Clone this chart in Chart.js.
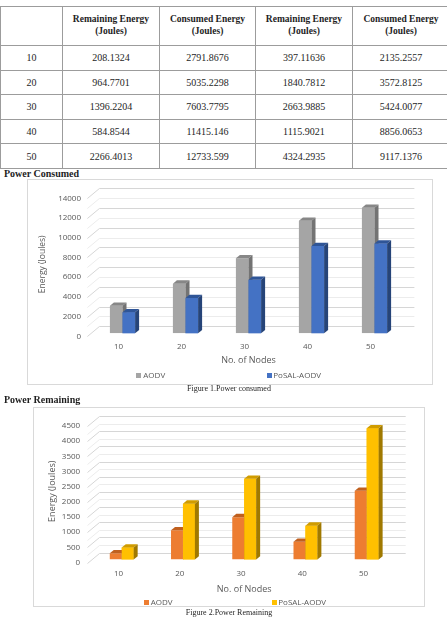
<!DOCTYPE html>
<html><head><meta charset="utf-8">
<script src="https://cdn.jsdelivr.net/npm/chart.js@4.4.0/dist/chart.umd.min.js"></script>
<style>
html,body{margin:0;padding:0;background:#fff;}
body{position:relative;width:447px;height:626px;overflow:hidden;font-family:"Liberation Serif","Times New Roman",serif;color:#1e1e1e;}
#tbl{position:absolute;left:0;top:6px;width:449px;border-collapse:collapse;table-layout:fixed;}
#tbl td,#tbl th{border:1px solid #9c9c9c;text-align:center;padding:0;}
#tbl th{font-weight:bold;font-size:9.5px;line-height:11.6px;}
#tbl td{font-size:10px;}
#tbl tr.h{height:39px;}
#tbl tr.r{height:24.6px;}
.sec{position:absolute;left:4px;font-weight:bold;font-size:10px;line-height:12px;white-space:nowrap;}
.cap{position:absolute;left:0;width:458px;text-align:center;font-size:8px;line-height:10px;white-space:nowrap;}
.box{position:absolute;border:1px solid #d9d9d9;box-sizing:border-box;}
canvas{position:absolute;}
.lg{position:absolute;font-family:"Open Sans",sans-serif;font-size:8px;line-height:10px;color:#595959;white-space:nowrap;}
.sq{position:absolute;width:5px;height:5px;}
</style>
</head>
<body>
<table id="tbl">
<colgroup><col style="width:62px"><col style="width:97px"><col style="width:96px"><col style="width:97px"><col style="width:97px"></colgroup>
<thead><tr class="h"><th></th><th>Remaining Energy<br>(Joules)</th><th>Consumed Energy<br>(Joules)</th><th>Remaining Energy<br>(Joules)</th><th>Consumed Energy<br>(Joules)</th></tr></thead>
<tbody id="tb"></tbody>
</table>

<div class="sec" style="top:168px">Power Consumed</div>
<div class="box" style="left:27px;top:179px;width:406px;height:206px"></div>
<canvas id="c1" width="405" height="192" style="left:27px;top:179px;width:405px;height:192px"></canvas>
<div class="sq" style="left:136px;top:372.5px;background:#a5a5a5"></div>
<div class="lg" style="left:143.3px;top:370px">AODV</div>
<div class="sq" style="left:266.7px;top:372.5px;background:#4472c4"></div>
<div class="lg" style="left:273.3px;top:370px">PoSAL-AODV</div>
<div class="cap" style="top:384px">Figure 1.Power consumed</div>

<div class="sec" style="top:394px">Power Remaining</div>
<div class="box" style="left:33px;top:407px;width:392px;height:200px"></div>
<canvas id="c2" width="392" height="190" style="left:33px;top:407px;width:392px;height:190px"></canvas>
<div class="sq" style="left:143.5px;top:599.8px;background:#ed7d31"></div>
<div class="lg" style="left:150.7px;top:597.3px">AODV</div>
<div class="sq" style="left:271.7px;top:599.8px;background:#ffc000"></div>
<div class="lg" style="left:278.3px;top:597.3px">PoSAL-AODV</div>
<div class="cap" style="top:607.5px">Figure 2.Power Remaining</div>

<script>
// ---- data ----
const nodes = [10, 20, 30, 40, 50];
const aodvRemaining = [208.1324, 964.7701, 1396.2204, 584.8544, 2266.4013];
const aodvConsumed = [2791.8676, 5035.2298, 7603.7795, 11415.146, 12733.599];
const posalRemaining = [397.11636, 1840.7812, 2663.9885, 1115.9021, 4324.2935];
const posalConsumed = [2135.2557, 3572.8125, 5424.0077, 8856.0653, 9117.1376];
const seriesNames = ['AODV', 'PoSAL-AODV'];
const yTicksConsumed = [0, 2000, 4000, 6000, 8000, 10000, 12000, 14000];
const yTicksRemaining = [0, 500, 1000, 1500, 2000, 2500, 3000, 3500, 4000, 4500];

// ---- table ----
const tb = document.getElementById('tb');
nodes.forEach((n, i) => {
  const tr = document.createElement('tr');
  tr.className = 'r';
  [n, aodvRemaining[i], aodvConsumed[i], posalRemaining[i], posalConsumed[i]].forEach(v => {
    const td = document.createElement('td');
    td.textContent = String(v);
    tr.appendChild(td);
  });
  tb.appendChild(tr);
});

// ---- 3D plugin ----
const threeD = {
  id: 'threeD',
  beforeDatasetsDraw(chart, args, o) {
    const {ctx, chartArea: a} = chart;
    const y = chart.scales.y;
    const vals = y.ticks.map(t => t.value);
    const lines = [];
    vals.forEach((v, i) => {
      lines.push([v, true]);
      if (i < vals.length - 1) lines.push([(v + vals[i + 1]) / 2, false]);
    });
    ctx.save();
    ctx.lineWidth = 1;
    lines.forEach(([v, major]) => {
      const py = Math.round(y.getPixelForValue(v)) + 0.5;
      ctx.strokeStyle = major ? '#d6d6d6' : '#ececec';
      ctx.beginPath();
      ctx.moveTo(a.left + o.front[0], py + o.front[1]);
      ctx.lineTo(a.left + o.back[0], py + o.back[1]);
      ctx.lineTo(a.right + o.back[0], py + o.back[1]);
      ctx.stroke();
    });
    ctx.restore();
  },
  afterDatasetsDraw(chart, args, o) {
    const {ctx} = chart;
    const metas = chart.getSortedVisibleDatasetMetas().slice().sort((p, q) => p.index - q.index);
    const [dx, dy] = o.depth;
    const poly = pts => { ctx.beginPath(); ctx.moveTo(pts[0][0], pts[0][1]); for (let k = 1; k < pts.length; k++) ctx.lineTo(pts[k][0], pts[k][1]); ctx.closePath(); ctx.fill(); };
    ctx.save();
    metas.forEach((meta, i) => {
      const [topC, sideC] = o.faces[meta.index];
      meta.data.forEach(bar => {
        const p = bar.getProps(['x', 'y', 'base', 'width'], true);
        const l = p.x - p.width / 2, r = p.x + p.width / 2;
        ctx.fillStyle = topC;
        poly([[l, p.y], [r, p.y], [r + dx, p.y + dy], [l + dx, p.y + dy]]);
        ctx.fillStyle = sideC;
        poly([[r, p.y], [r + dx, p.y + dy], [r + dx, p.base + dy], [r, p.base]]);
      });
      for (let j = i + 1; j < metas.length; j++) metas[j].data.forEach(el => el.draw(ctx));
    });
    ctx.restore();
  }
};

function makeChart(id, cfg) {
  const font = {family: 'Open Sans', size: 8};
  return new Chart(document.getElementById(id), {
    type: 'bar',
    data: {
      labels: nodes.map(String),
      datasets: [
        {label: seriesNames[0], data: cfg.d0, backgroundColor: cfg.colors[0], borderWidth: 0},
        {label: seriesNames[1], data: cfg.d1, backgroundColor: cfg.colors[1], borderWidth: 0}
      ]
    },
    options: {
      responsive: false,
      animation: false,
      devicePixelRatio: 1,
      layout: {padding: {left: 0, right: cfg.padRight, top: cfg.padTop, bottom: 0}},
      datasets: {bar: {categoryPercentage: cfg.catPct, barPercentage: 1}},
      plugins: {
        legend: {display: false},
        tooltip: {enabled: false},
        threeD: {front: [-3.6, 3], back: [8.4, -7], depth: [4, -3.3], faces: cfg.faces}
      },
      scales: {
        x: {
          grid: {display: false, drawTicks: false},
          border: {display: false},
          ticks: {color: '#595959', font, padding: cfg.xPad, labelOffset: cfg.xOff},
          title: {display: true, text: 'No. of Nodes', color: '#595959', font: {family: 'Open Sans', size: 9}, padding: {top: 0, bottom: cfg.xTitlePad}},
          afterFit(s) { s.height = cfg.xHeight; }
        },
        y: {
          min: 0, max: cfg.ticks[cfg.ticks.length - 1],
          grid: {display: false, drawTicks: false},
          border: {display: false},
          afterBuildTicks(s) { s.ticks = cfg.ticks.map(v => ({value: v})); },
          ticks: {color: '#595959', font, padding: cfg.yPad, labelOffset: 3, callback: v => String(v)},
          title: {display: true, text: 'Energy (Joules)', color: '#595959', font: {family: 'Open Sans', size: cfg.yTitleSize}, padding: {top: cfg.yTitlePad, bottom: 0}},
          afterFit(s) { s.width = cfg.yWidth; }
        }
      }
    },
    plugins: [threeD]
  });
}

makeChart('c1', {
  d0: aodvConsumed, d1: posalConsumed,
  colors: ['#a5a5a5', '#4472c4'],
  faces: [['#878787', '#737373'], ['#2f5597', '#264478']],
  ticks: yTicksConsumed,
  padRight: 26, padTop: 16.3, catPct: 0.4,
  xPad: 8.6, xOff: -4, xTitlePad: 5.6, xHeight: 37.7,
  yPad: 10, yTitleSize: 8.5, yTitlePad: 10.9, yWidth: 64
});

makeChart('c2', {
  d0: aodvRemaining, d1: posalRemaining,
  colors: ['#ed7d31', '#ffc000'],
  faces: [['#c0601f', '#a9541b'], ['#d09c00', '#a07900']],
  ticks: yTicksRemaining,
  padRight: 27.7, padTop: 16, catPct: 0.39,
  xPad: 9.7, xOff: -3.2, xTitlePad: 2.6, xHeight: 37.5,
  yPad: 11, yTitleSize: 9, yTitlePad: 13.6, yWidth: 58.1
});
</script>
</body></html>
